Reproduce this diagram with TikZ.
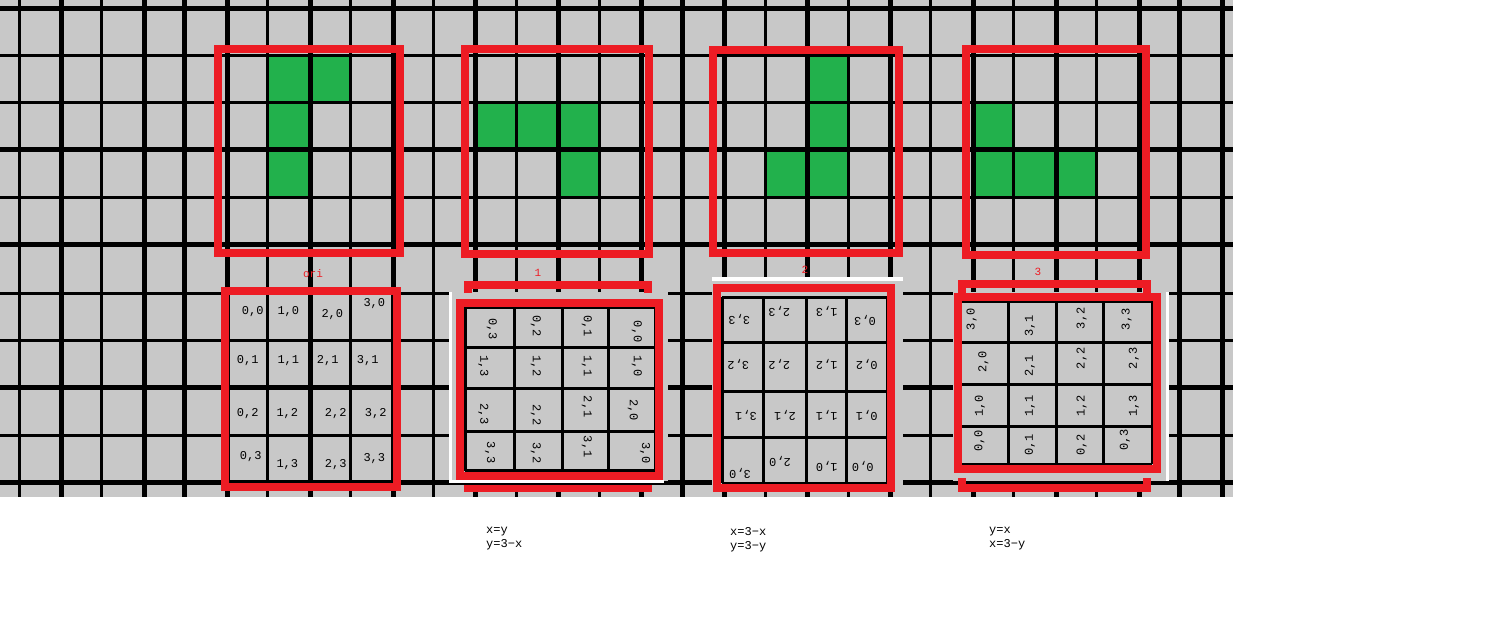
\documentclass[tikz,border=0pt]{standalone}
\usepackage{fontspec}
\newfontfamily\pixfont{Liberation Mono}
\definecolor{bggray}{HTML}{C8C8C8}
\definecolor{frame}{HTML}{ED1C24}
\definecolor{block}{HTML}{22B14C}
\definecolor{shade}{HTML}{7C7C7C}

\begin{document}
\begin{tikzpicture}[x=1pt,y=-1pt,
  gridline/.style={line width=3pt},
  shadeline/.style={shade,line width=2pt},
  redframe/.style={frame,line width=8pt},
  cell/.style={font=\pixfont\fontsize{12}{12}\selectfont,inner sep=0pt},
  tag/.style={frame,font=\pixfont\fontsize{11}{11}\selectfont,inner sep=0pt},
  rule/.style={font=\pixfont\fontsize{12}{14}\selectfont,align=left,anchor=north west,inner sep=0pt}]
  \useasboundingbox[fill=white] (0,0) rectangle (1501,620);
  \fill[bggray] (0,0) rectangle (1233,497);
  \foreach \i/\j in {6/1,6/2,6/3,7/1,11/2,12/2,13/2,13/3,19/1,19/2,19/3,18/3,23/2,23/3,24/3,25/3}
    \fill[block] (19+41.45*\i,8+47.5*\j) rectangle ++(41.45,47.5);
  \foreach \i in {1,3,...,29}
    \draw[shadeline] (21.5+41.45*\i,0) -- ++(0,497);
  \foreach \j/\d in {0/2.5,3/-2.5,5/-2.5,8/-2.5,10/-2.5}
    \draw[shadeline] (0,8+47.5*\j+\d) -- ++(1233,0);
  \foreach \i in {0,...,29}
    \draw[gridline] (19+41.45*\i,0) -- ++(0,497);
  \foreach \i in {4,16,28}
    \draw[line width=5pt] (19+41.45*\i,0) -- ++(0,497);
  \foreach \j in {0,...,10}
    \draw[gridline] (0,8+47.5*\j) -- ++(1233,0);
  \foreach \a/\b/\c/\d in {218/49/400/253,465/49/649/254,713/50/899/253,966/49/1146/255}
    \draw[redframe] (\a,\b) rectangle (\c,\d);

  \node[tag] (ori) at (313,274) {ori};
  \foreach \a/\b/\x/\y in {0/0/252.7/311.7,1/0/288.3/311.7,2/0/332.3/315,3/0/374.3/303.3,
      0/1/247.7/361,1/1/288.3/361,2/1/327.7/361,3/1/367.7/361,
      0/2/247.7/413.3,1/2/287.3/413.3,2/2/335.7/413.3,3/2/375.7/413.3,
      0/3/250.7/456.7,1/3/287.3/465,2/3/335.7/465,3/3/374.3/458.3}
    \node[cell] (o-\a-\b) at (\x,\y) {\a,\b};
  \draw[redframe] (225,291) rectangle (397,487);

  \fill[bggray] (450,292) rectangle (668,481);
  \draw[white,line width=3pt] (450,292) -- (450,481) -- (664,481);
  \foreach \x in {465,514,562,608,655} \draw[gridline] (\x,307) -- (\x,471);
  \foreach \y in {307,347,388,431} \draw[gridline] (465,\y) -- (655,\y);
  \draw[line width=5pt] (465,471) -- (655,471);
  \foreach \a/\b/\x/\y in {0/3/491.7/329,0/2/535.7/326,0/1/586.7/326,0/0/636.7/331.7,
      1/3/483.3/366,1/2/535.7/366,1/1/586.7/366,1/0/636.7/366,
      2/3/483.3/414,2/2/535.7/415,2/1/586.7/406.7,2/0/632.7/410,
      3/3/490/452.7,3/2/535.7/453.3,3/1/586.7/446.7,3/0/645/453.3}
    \node[cell,rotate=-90] (p-\a-\b) at (\x,\y) {\a,\b};
  \draw[redframe] (460,303) rectangle (659,476);
  \draw[redframe] (468,293) |- (648,285) -- (648,293);
  \draw[frame,line width=7pt] (464,488.5) -- (652,488.5);
  \node[tag] (one) at (538,273) {1};

  \fill[bggray] (712,279) rectangle (903,492);
  \draw[white,line width=3pt] (712,279) -- (903,279);
  \foreach \x in {722,763,806,846,887} \draw[gridline] (\x,297) -- (\x,483);
  \foreach \y in {297,342,391,437,483} \draw[gridline] (722,\y) -- (887,\y);
  \foreach \a/\b/\x/\y in {3/3/739.3/319.3,2/3/779.3/311.7,1/3/826.7/311.7,0/3/865/320.7,
      3/2/738.3/364.3,2/2/779.3/364.3,1/2/826.7/364.3,0/2/866.7/364.3,
      3/1/746/415,2/1/785/415,1/1/826.7/415,0/1/866.7/415,
      3/0/740/473.3,2/0/780/461.7,1/0/826.7/466,0/0/862.7/466}
    \node[cell,rotate=180] (q-\a-\b) at (\x,\y) {\a,\b};
  \draw[redframe] (717,288) rectangle (891,488);
  \node[tag] (two) at (805,270) {2};

  \fill[bggray] (953,292) rectangle (1167,481);
  \draw[white,line width=3pt] (1167,292) -- (1167,481);
  \foreach \x in {960,1008,1056,1103,1152} \draw[gridline] (\x,301) -- (\x,464);
  \foreach \y in {301,342,384,426,464} \draw[gridline] (960,\y) -- (1152,\y);
  \foreach \a/\b/\x/\y in {3/0/971.7/319.3,3/1/1030/326,3/2/1081.7/318.3,3/3/1126.7/319.3,
      2/0/983.3/361.7,2/1/1030/366,2/2/1081.7/358.3,2/3/1134/358.3,
      1/0/980/405.7,1/1/1030/405.7,1/2/1081.7/405.7,1/3/1134/405.7,
      0/0/979.3/441,0/1/1030/445,0/2/1081.7/445,0/3/1125/440}
    \node[cell,rotate=90] (s-\a-\b) at (\x,\y) {\a,\b};
  \draw[redframe] (957.5,296.5) rectangle (1156.5,469);
  \draw[redframe] (962,293) |- (1147,284) -- (1147,293);
  \draw[redframe] (962,478) |- (1147,488) -- (1147,478);
  \node[tag] (three) at (1038,272) {3};

  \node[rule] (rule-one) at (486,527) {x=y\\y=3−x};
  \node[rule] (rule-two) at (730,527) {x=3−x\\y=3−y};
  \node[rule] (rule-three) at (989,527) {y=x\\x=3−y};
\end{tikzpicture}
\end{document}
